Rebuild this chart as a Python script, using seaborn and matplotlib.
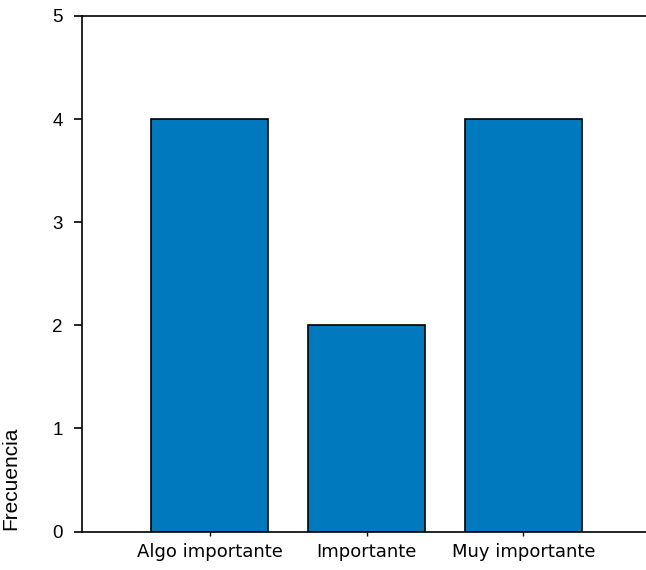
import pandas as pd
import matplotlib.pyplot as plt
import seaborn as sns

categorias = ["Algo importante", "Importante", "Muy importante"]
frecuencia = [4, 2, 4]

df = pd.DataFrame({"categoria": categorias, "frecuencia": frecuencia})

sns.set_style("white")
plt.rcParams['font.family'] = ['Liberation Sans', 'DejaVu Sans']
plt.rcParams['text.color'] = 'black'
plt.rcParams['axes.labelcolor'] = 'black'
plt.rcParams['xtick.color'] = 'black'
plt.rcParams['ytick.color'] = 'black'

fig = plt.figure(figsize=(6.46, 5.70), dpi=100)
ax = fig.add_axes([0.127, 0.0675, 0.881, 0.9045])

sns.barplot(data=df, x="categoria", y="frecuencia", color="#0079be",
            saturation=1, width=0.745, edgecolor="black", linewidth=1.2, ax=ax)

ax.set_xlim(-0.815, 2.815)
ax.set_ylim(0, 5)
ax.set_yticks([0, 1, 2, 3, 4, 5])
ax.set_xlabel("")
ax.set_ylabel("Frecuencia", fontsize=15, family="Liberation Sans")
ax.yaxis.set_label_coords(-0.108, 0.104)

for s in ["left", "top", "bottom", "right"]:
    ax.spines[s].set_color("black")
    ax.spines[s].set_linewidth(1.2)

ax.tick_params(axis="y", length=6, width=1.2, pad=8, left=True)
ax.tick_params(axis="x", length=3, width=1, pad=5, bottom=True)
for lbl in ax.get_yticklabels():
    lbl.set_fontfamily("Liberation Sans")
    lbl.set_fontsize(13.5)
for lbl in ax.get_xticklabels():
    lbl.set_fontfamily("DejaVu Sans")
    lbl.set_fontsize(13)

fig.savefig("out.png", dpi=100)
